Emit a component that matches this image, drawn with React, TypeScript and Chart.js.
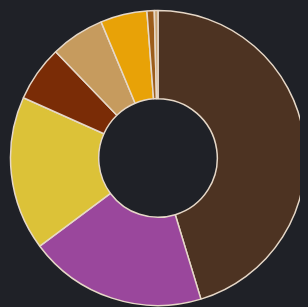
import React, { useEffect, useRef } from "react";
import { Chart, registerables } from "chart.js";

Chart.register(...registerables);

const labels = ["A", "B", "C", "D", "E", "F", "G", "H"];
const values = [45.3, 19.5, 16.9, 6.1, 5.9, 5.1, 0.8, 0.4];
const colors = ["#4d3322", "#9a479c", "#dcc238", "#7a2c06", "#c69b5e", "#e8a207", "#9c5d1c", "#c9a476"];

export default function App() {
  const ref = useRef<HTMLCanvasElement>(null);
  useEffect(() => {
    document.body.style.background = "#1f2127";
    const chart = new Chart(ref.current!, {
      type: "doughnut",
      data: {
        labels,
        datasets: [
          {
            data: values,
            backgroundColor: colors,
            borderColor: "#e6d8c8",
            borderWidth: 1.5,
          },
        ],
      },
      options: {
        responsive: false,
        animation: false,
        radius: 147.5,
        cutout: 60,
        layout: { padding: 0 },
        plugins: { legend: { display: false }, tooltip: { enabled: false } },
      },
    });
    return () => chart.destroy();
  }, []);
  return (
    <div style={{ width: 300, height: 300 }}>
      <canvas ref={ref} width={300} height={300} />
    </div>
  );
}
